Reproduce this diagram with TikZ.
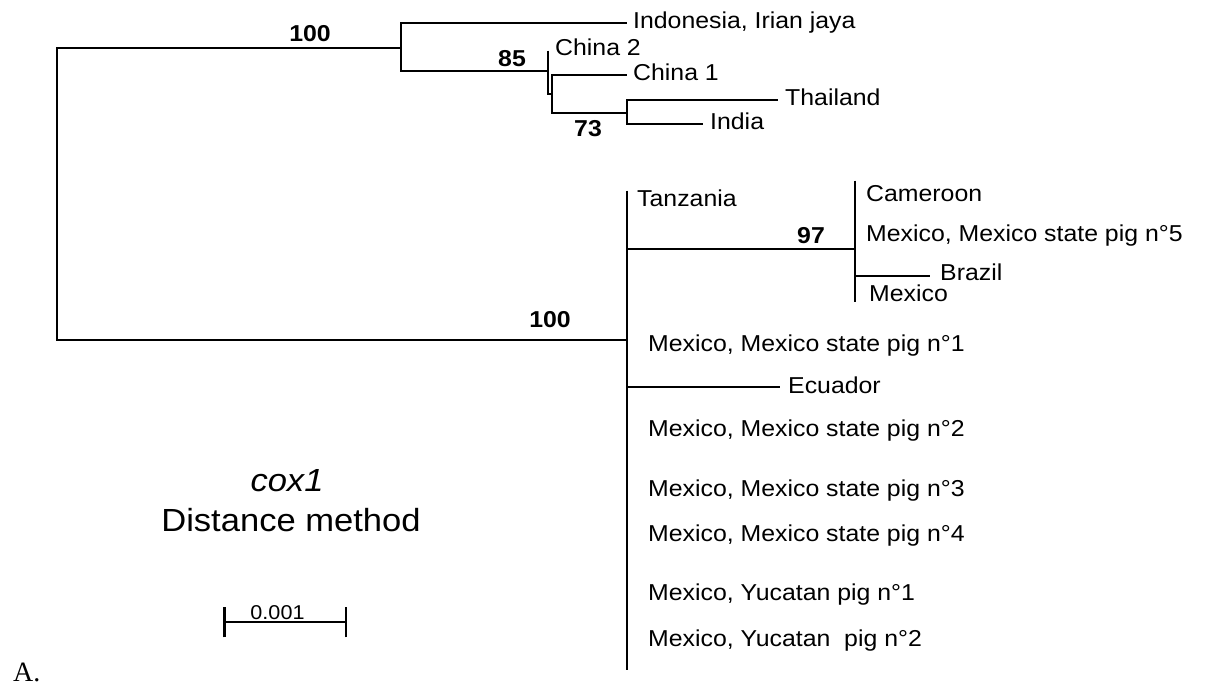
\documentclass[tikz,border=0pt]{standalone}
\usepackage{fontspec}
\setmainfont{Liberation Sans}
\newfontfamily\labfont[FakeStretch=1.08]{Liberation Sans}
\newfontfamily\serifA{Liberation Serif}
\begin{document}
\begin{tikzpicture}[x=1pt,y=-1pt,
  branch/.style={line width=2.2pt, line join=miter},
  tiplab/.style={anchor=base west, inner sep=0pt, font=\labfont\fontsize{23}{26}\selectfont},
  boot/.style={anchor=base, inner sep=0pt, font=\labfont\bfseries\fontsize{23}{26}\selectfont},
  title/.style={anchor=base, inner sep=0pt, font=\labfont\fontsize{32}{36}\selectfont}]
\useasboundingbox (0,0) rectangle (1221,686);
% internal nodes
\coordinate (R) at (57,194);
\coordinate (n1) at (401,47.7);
\coordinate (nA) at (548.3,70.7);
\coordinate (nB) at (551.7,93.8);
\coordinate (nC) at (626.7,112.7);
\coordinate (n4) at (627,340);
\coordinate (n97) at (855,249);
% tips
\coordinate (tIndo) at (626.7,23.3);
\coordinate (tC2) at (548.3,50.7);
\coordinate (tC1) at (626.7,75);
\coordinate (tTha) at (778,100);
\coordinate (tInd) at (703,124);
\coordinate (tTop) at (627,190.7);
\coordinate (tBot) at (627,670);
\coordinate (tCam) at (855,180.7);
\coordinate (tMex) at (855,301.7);
\coordinate (tBra) at (930,275.7);
\coordinate (tEcu) at (780,387.3);
% branches
\draw[branch] (R) |- (n1);
\draw[branch] (R) |- (n4);
\draw[branch] (n1) |- (tIndo);
\draw[branch] (n1) |- (nA);
\draw[branch] (tC2) -- (nA) |- (nB);
\draw[branch] (nB) |- (tC1);
\draw[branch] (nB) |- (nC);
\draw[branch] (nC) |- (tTha);
\draw[branch] (nC) |- (tInd);
\draw[branch] (tTop) -- (n4) -- (tBot);
\draw[branch] (n4) |- (n97);
\draw[branch] (n4) |- (tEcu);
\draw[branch] (tCam) -- (n97) -- (tMex);
\draw[branch] (n97) |- (tBra);
% tip labels
\node[tiplab] (lIndo) at (633,28.3) {Indonesia, Irian jaya};
\node[tiplab] (lC2) at (555,55) {China 2};
\node[tiplab] (lC1) at (633,80) {China 1};
\node[tiplab] (lTha) at (785,105) {Thailand};
\node[tiplab] (lInd) at (710,129) {India};
\node[tiplab] (lTan) at (637,206) {Tanzania};
\node[tiplab] (lCam) at (866,201.7) {Cameroon};
\node[tiplab] (lP5) at (866,241.7) {Mexico, Mexico state pig n°5};
\node[tiplab] (lBra) at (940,280) {Brazil};
\node[tiplab] (lMex) at (869,301.7) {Mexico};
\node[tiplab] (lP1) at (648,351.7) {Mexico, Mexico state pig n°1};
\node[tiplab] (lEcu) at (788,393.3) {Ecuador};
\node[tiplab] (lP2) at (648,436.7) {Mexico, Mexico state pig n°2};
\node[tiplab] (lP3) at (648,496.7) {Mexico, Mexico state pig n°3};
\node[tiplab] (lP4) at (648,541.7) {Mexico, Mexico state pig n°4};
\node[tiplab] (lY1) at (648,600) {Mexico, Yucatan pig n°1};
\node[tiplab] (lY2) at (648,646.7) {Mexico, Yucatan\ \ pig n°2};
% bootstrap values
\node[boot] (b1) at (310,41.7) {100};
\node[boot] (b2) at (512,66.7) {85};
\node[boot] (b3) at (588,136.7) {73};
\node[boot] (b4) at (550,327) {100};
\node[boot] (b5) at (811,243) {97};
% title
\node[title] (tcox) at (287,491.7) {\itshape cox1};
\node[title] (tdm) at (291,531.7) {Distance method};
% scale bar
\coordinate (s1) at (224.5,622.3);
\coordinate (s2) at (346.3,622.3);
\draw[branch] (s1) -- (s2);
\draw[branch] ([yshift=-15pt]s1) -- ([yshift=15pt]s1);
\draw[branch] ([yshift=-15pt]s2) -- ([yshift=15pt]s2);
\node[anchor=base, inner sep=0pt, font=\labfont\fontsize{20}{22}\selectfont] (sl) at (277.5,619) {0.001};
% panel letter
\node[anchor=base west, inner sep=0pt, font=\serifA\fontsize{28}{30}\selectfont] (pA) at (13,681.7) {A.};
\end{tikzpicture}
\end{document}
